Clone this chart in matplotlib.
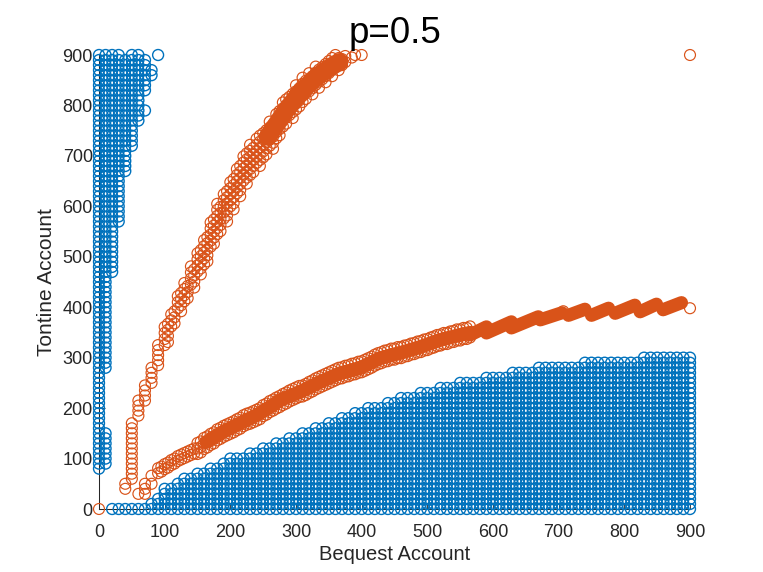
import matplotlib
matplotlib.use("Agg")
import matplotlib.pyplot as plt

BLUE = "#0072BD"
ORANGE = "#D95319"
DARK = "#262626"
W, H = 763, 572

title = "p=0.5"
xlabel = "Bequest Account"
ylabel = "Tontine Account"
ticks = [0, 100, 200, 300, 400, 500, 600, 700, 800, 900]

# lower blue region: bottom row plus column heights
bottom_row_x = [20, 30, 40, 50, 60, 70]
step_x = [80, 90, 100, 120, 130, 150, 170, 190, 200, 230, 250, 270, 290, 310, 330, 350,
          370, 390, 410, 440, 460, 490, 520, 550, 590, 630, 670, 740, 830]
step_top = [10, 20, 40, 50, 60, 70, 80, 90, 100, 110, 120, 130, 140, 150, 160, 170,
            180, 190, 200, 210, 220, 230, 240, 250, 260, 270, 280, 290, 300]
last_x = 900

# upper-left blue region: column, lowest, highest value of each run
left_x = [0, 10, 10, 20, 30, 40, 50, 60, 70, 70, 80, 90]
left_lo = [80, 90, 280, 470, 570, 670, 720, 770, 790, 830, 860, 900]
left_hi = [900, 150, 900, 900, 900, 890, 900, 900, 790, 890, 870, 900]

# steep orange band
upper_x = [40, 50, 60, 70, 80, 90, 100, 110, 120, 130, 140, 150, 160, 170, 180, 190, 200,
           210, 220, 230, 240, 250, 260, 270, 280, 290, 300, 310, 320, 330, 340, 350, 360,
           370, 380, 390, 400]
upper_lo = [40, 60, 185, 215, 250, 285, 325, 362, 392, 412, 439, 465, 485, 520, 545, 570, 594,
            620, 645, 662, 680, 697, 714, 735, 758, 775, 792, 807, 822, 835, 846, 858, 870,
            880, 895, 900, 900]
upper_hi = [50, 170, 215, 250, 285, 325, 367, 395, 428, 452, 485, 515, 539, 576, 605, 630, 654,
            680, 705, 722, 740, 753, 770, 790, 812, 828, 842, 855, 868, 878, 886, 894, 900,
            900, 900, 900, 900]
upper_core_x = [257, 270, 283, 306, 332, 352, 366]
upper_core_y = [738, 762, 787, 825, 857, 876, 886]

# shallow orange band
lower_x = [60, 70, 70, 70, 80, 80, 90, 100, 110, 120, 130, 140, 150, 160, 170, 180, 190, 200, 210, 220,
           230, 240, 250, 260, 270, 280, 290, 300, 310, 320, 330, 340, 350, 360, 370, 380, 390,
           400, 410, 420, 430, 440, 450, 460, 470, 480, 490, 500, 510, 520, 530, 540, 550, 560]
lower_c = [30, 30, 40, 50, 50, 66, 76, 84, 92, 100, 106, 112, 120, 130, 138, 147, 154, 160, 167, 175,
           180, 186, 195, 203, 210, 217, 224, 230, 234, 241, 248, 254, 260, 266, 270, 274, 278,
           282, 288, 295, 300, 304, 307, 310, 314, 318, 322, 326, 331, 335, 338, 342, 345, 348]
core_x = [164, 189, 215, 240, 265, 276, 306, 337, 367, 397, 428, 458, 489, 519, 550, 565]
core_y = [133, 153, 170, 186, 206, 216, 232, 252, 269, 279, 299, 309, 321, 335, 345, 349]
tooth_x0 = [565, 590, 628, 672, 715, 750, 786, 824, 859]
tooth_y0 = [345, 349, 359, 375, 384, 384, 388, 391, 395]
tooth_x1 = [590, 628, 669, 705, 740, 776, 816, 849, 887]
tooth_y1 = [361, 371, 381, 389, 396, 398, 404, 406, 409]
lone_x = [0, 707, 900, 900]
lone_y = [0, 392, 398, 900]

blue_x, blue_y = [], []
for x in bottom_row_x:
    blue_x.append(x)
    blue_y.append(0)
for i, x0 in enumerate(step_x):
    x1 = step_x[i + 1] if i + 1 < len(step_x) else last_x + 10
    for x in range(x0, x1, 10):
        for y in range(0, step_top[i] + 1, 10):
            blue_x.append(x)
            blue_y.append(y)
for x, lo, hi in zip(left_x, left_lo, left_hi):
    for y in range(lo, hi + 1, 10):
        blue_x.append(x)
        blue_y.append(y)

or_x, or_y = list(lone_x), list(lone_y)
for x, lo, hi in zip(upper_x, upper_lo, upper_hi):
    step = 10 if x < 100 else 6
    for y in range(lo, hi + 1, step):
        # every other row sits half a column over, as the band's clusters do
        shift = 5 if (x >= 100 and (y // 6) % 2) else 0
        or_x.append(x + shift)
        or_y.append(y)
for x, c in zip(lower_x, lower_c):
    if x < 90:
        spread = [0]
    elif x < 150:
        spread = [-5, 5]
    else:
        spread = [-11, 0, 11]
    for d in spread:
        or_x.append(x)
        or_y.append(c + d)
        if x >= 90:
            or_x.append(x + 5)
            or_y.append(c + d + 3)

plt.rcParams["font.family"] = ["Liberation Sans", "DejaVu Sans"]
fig = plt.figure(figsize=(W / 100, H / 100), dpi=100)
ax = fig.add_axes([99 / W, 1 - 509 / H, (690 - 99) / W, (509 - 55) / H])
ax.set_xlim(0, 900)
ax.set_ylim(0, 900)

ax.scatter(blue_x, blue_y, s=62, facecolors="none", edgecolors=BLUE, linewidths=1.0,
           clip_on=False, zorder=3)
ax.scatter(or_x, or_y, s=62, facecolors="none", edgecolors=ORANGE, linewidths=0.85,
           clip_on=False, zorder=4)
ax.plot(core_x, core_y, color=ORANGE, lw=10, solid_capstyle="round", zorder=4)
ax.plot(upper_core_x, upper_core_y, color=ORANGE, lw=13, solid_capstyle="round", zorder=4,
        clip_on=False)
for a, b, c, d in zip(tooth_x0, tooth_y0, tooth_x1, tooth_y1):
    ax.plot([a, c], [b, d], color=ORANGE, lw=9.5, solid_capstyle="round", zorder=4)

for side in ("top", "right"):
    ax.spines[side].set_visible(False)
for side in ("left", "bottom"):
    ax.spines[side].set_color(DARK)
    ax.spines[side].set_linewidth(0.75)
ax.set_xticks(ticks)
ax.set_yticks(ticks)
ax.tick_params(direction="in", length=4.5, width=0.6, colors=DARK, labelsize=13)
ax.tick_params(axis="x", pad=11)
ax.tick_params(axis="y", pad=4.5)
fig.text(395 / W, 1 - 555 / H, xlabel, ha="center", va="center", fontsize=14.5, color=DARK)
fig.text(47 / W, 1 - 282 / H, ylabel, ha="center", va="center", rotation=90, fontsize=15,
         color=DARK)
fig.text(395 / W, 1 - 43 / H, title, ha="center", va="baseline", fontsize=26.5, color="black")

fig.savefig("out.png", dpi=100)
